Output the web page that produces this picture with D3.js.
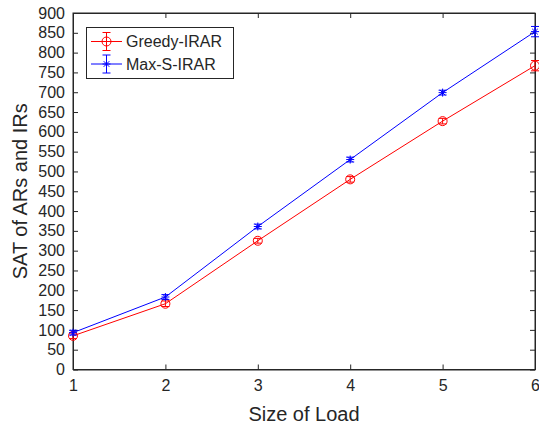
<!DOCTYPE html>
<html>
<head>
<meta charset="utf-8">
<script src="https://cdn.jsdelivr.net/npm/d3@7"></script>
<style>
  body { margin: 0; background: #fff; }
  text { font-family: "Liberation Sans", Arial, sans-serif; fill: #262626; }
</style>
</head>
<body>
<svg width="539" height="427"></svg>
<script>
var loads = [1, 2, 3, 4, 5, 6];
var greedy = [85, 166, 325, 480, 627, 767];
var greedyErr = [7, 7, 6, 7, 7, 13];
var maxS = [93, 183, 361, 530, 699, 853];
var maxSErr = [6, 6, 6, 6, 6, 13];
var yTicks = d3.range(0, 901, 50);

var svg = d3.select('svg');
var m = { left: 73, right: 535, top: 13, bottom: 369.5 };

var x = d3.scaleLinear().domain([1, 6]).range([m.left, m.right]);
var y = d3.scaleLinear().domain([0, 900]).range([m.bottom, m.top]);

// axes box
var axCol = '#262626';
svg.append('rect')
  .attr('x', m.left).attr('y', m.top)
  .attr('width', m.right - m.left).attr('height', m.bottom - m.top)
  .attr('fill', 'none').attr('stroke', axCol).attr('stroke-width', 1);

var gx = svg.append('g')
  .attr('transform', 'translate(0,' + m.bottom + ')')
  .call(d3.axisBottom(x).tickValues(loads).tickFormat(d3.format('d')).tickSizeInner(-5).tickSizeOuter(0).tickPadding(10));
var gxTop = svg.append('g')
  .attr('transform', 'translate(0,' + m.top + ')')
  .call(d3.axisTop(x).tickValues(loads).tickFormat('').tickSizeInner(-5).tickSizeOuter(0));
var gy = svg.append('g')
  .attr('transform', 'translate(' + m.left + ',0)')
  .call(d3.axisLeft(y).tickValues(yTicks).tickFormat(d3.format('d')).tickSizeInner(-5).tickSizeOuter(0).tickPadding(8));
var gyR = svg.append('g')
  .attr('transform', 'translate(' + m.right + ',0)')
  .call(d3.axisRight(y).tickValues(yTicks).tickFormat('').tickSizeInner(-5).tickSizeOuter(0));

[gx, gxTop, gy, gyR].forEach(function (g) {
  g.select('.domain').attr('stroke', axCol);
  g.selectAll('.tick line').attr('stroke', axCol);
  g.selectAll('text').attr('font-size', 16).attr('font-family', '"Liberation Sans", Arial, sans-serif').attr('fill', axCol);
});

// axis labels
svg.append('text')
  .attr('x', (m.left + m.right) / 2).attr('y', 421)
  .attr('text-anchor', 'middle').attr('font-size', 20)
  .text('Size of Load');
svg.append('text')
  .attr('transform', 'translate(27,' + (m.top + m.bottom) / 2 + ') rotate(-90)')
  .attr('text-anchor', 'middle').attr('font-size', 20)
  .text('SAT of ARs and IRs');

function drawSeries(vals, errs, color, marker) {
  var line = d3.line().x(function (d, i) { return x(loads[i]); }).y(function (d) { return y(d); });
  var g = svg.append('g');
  g.append('path').datum(vals)
    .attr('d', line).attr('fill', 'none').attr('stroke', color).attr('stroke-width', 1);
  vals.forEach(function (v, i) {
    var cx = x(loads[i]);
    var y1 = y(v - errs[i]), y2 = y(v + errs[i]);
    g.append('line').attr('x1', cx).attr('x2', cx).attr('y1', y1).attr('y2', y2).attr('stroke', color);
    g.append('line').attr('x1', cx - 4).attr('x2', cx + 4).attr('y1', y1).attr('y2', y1).attr('stroke', color);
    g.append('line').attr('x1', cx - 4).attr('x2', cx + 4).attr('y1', y2).attr('y2', y2).attr('stroke', color);
    marker(g, cx, y(v), color);
  });
}

function circleMarker(g, cx, cy, color) {
  g.append('circle').attr('cx', cx).attr('cy', cy).attr('r', 4.5)
    .attr('fill', 'none').attr('stroke', color);
}
function starMarker(g, cx, cy, color) {
  var r = 4;
  g.append('path')
    .attr('d', 'M' + (cx - r) + ',' + cy + 'H' + (cx + r) +
      'M' + cx + ',' + (cy - r) + 'V' + (cy + r) +
      'M' + (cx - r * 0.7) + ',' + (cy - r * 0.7) + 'L' + (cx + r * 0.7) + ',' + (cy + r * 0.7) +
      'M' + (cx - r * 0.7) + ',' + (cy + r * 0.7) + 'L' + (cx + r * 0.7) + ',' + (cy - r * 0.7))
    .attr('stroke', color).attr('fill', 'none');
}

drawSeries(greedy, greedyErr, '#ff0000', circleMarker);
drawSeries(maxS, maxSErr, '#0000ff', starMarker);

// legend
var lg = svg.append('g');
lg.append('rect').attr('x', 86.5).attr('y', 27.5).attr('width', 147).attr('height', 51)
  .attr('fill', '#fff').attr('stroke', axCol);
var entries = [
  { name: 'Greedy-IRAR', color: '#ff0000', marker: circleMarker, y: 41.5 },
  { name: 'Max-S-IRAR', color: '#0000ff', marker: starMarker, y: 64 }
];
entries.forEach(function (e) {
  lg.append('line').attr('x1', 91).attr('x2', 122).attr('y1', e.y).attr('y2', e.y).attr('stroke', e.color);
  lg.append('line').attr('x1', 106.5).attr('x2', 106.5).attr('y1', e.y - 9).attr('y2', e.y + 9).attr('stroke', e.color);
  lg.append('line').attr('x1', 102.5).attr('x2', 110.5).attr('y1', e.y - 9).attr('y2', e.y - 9).attr('stroke', e.color);
  lg.append('line').attr('x1', 102.5).attr('x2', 110.5).attr('y1', e.y + 9).attr('y2', e.y + 9).attr('stroke', e.color);
  e.marker(lg, 106.5, e.y, e.color);
  lg.append('text').attr('x', 126).attr('y', e.y + 5.5).attr('font-size', 16).text(e.name);
});
</script>
</body>
</html>
